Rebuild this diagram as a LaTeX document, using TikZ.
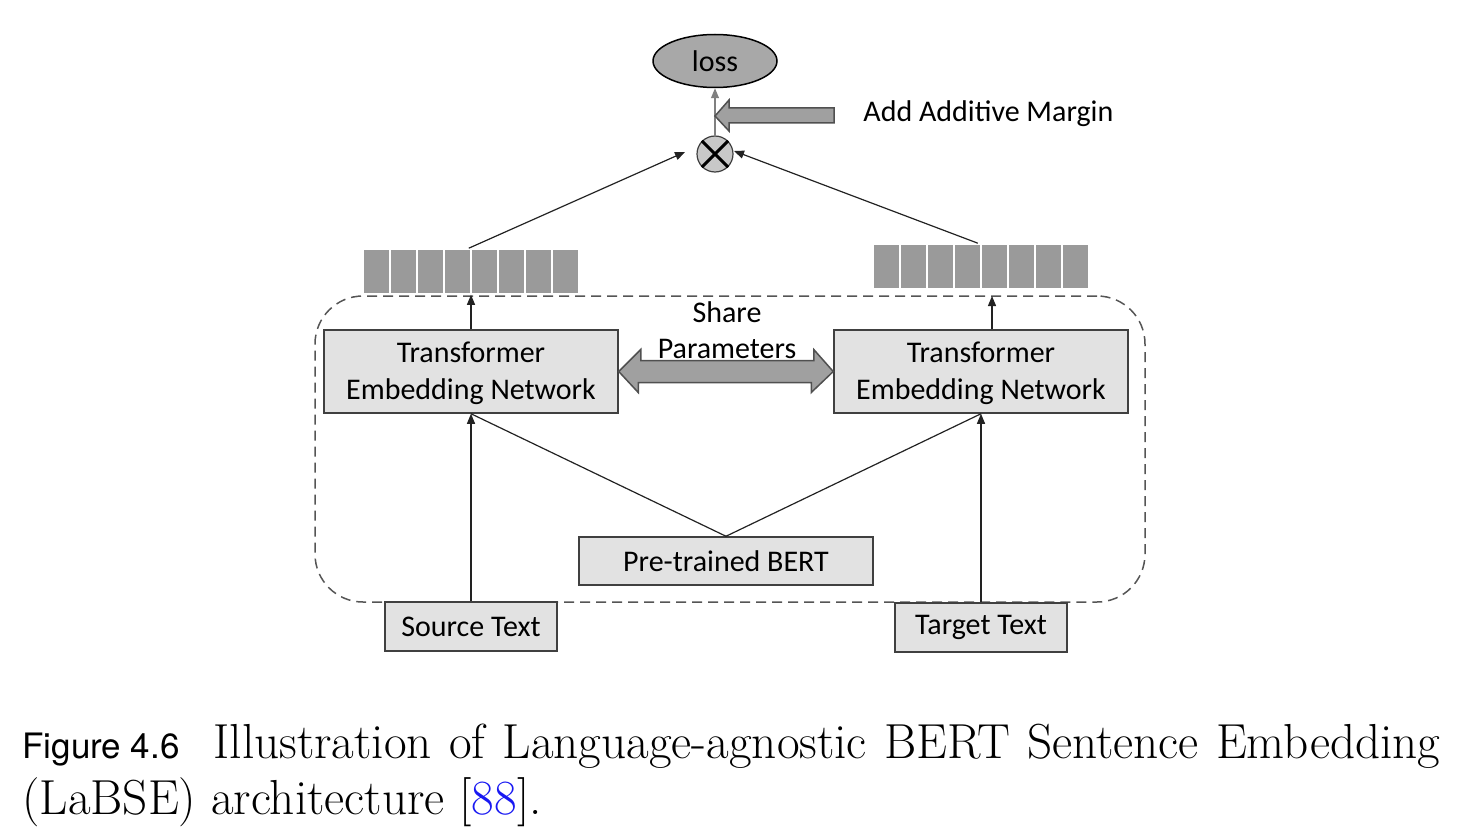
\documentclass[tikz,border=0pt]{standalone}
\usepackage{fontspec}
\usetikzlibrary{arrows.meta,calc,shapes.geometric}
\newfontfamily\calfont{Carlito}
\newfontfamily\helvfont{TeX Gyre Heros}
\definecolor{boxfill}{HTML}{E2E2E2}
\definecolor{boxdraw}{HTML}{404040}
\definecolor{cellgray}{HTML}{9A9A9A}
\definecolor{lossfill}{HTML}{A8A8A8}
\definecolor{circfill}{HTML}{C8C8C8}
\definecolor{blockfill}{HTML}{A0A0A0}
\definecolor{blockdraw}{HTML}{505050}
\definecolor{linecol}{HTML}{222222}
\definecolor{dashcol}{HTML}{555555}
\definecolor{refblue}{rgb}{0.1,0.1,0.95}
\tikzset{
  lbl/.style={font=\calfont\fontsize{15}{18.5}\selectfont, align=center, inner sep=0pt},
  box/.style={lbl, draw=boxdraw, fill=boxfill, line width=0.75pt},
  cell/.style={draw=white, fill=cellgray, line width=0.8pt, minimum width=13.5pt, minimum height=22.5pt, inner sep=0pt},
  conn/.style={draw=linecol, line width=0.6pt, -{Triangle[length=5pt,width=4pt]}},
  plainline/.style={draw=linecol, line width=0.6pt},
  blockarrow/.style={draw=blockdraw, fill=blockfill, line width=0.75pt, line join=miter},
  dashbox/.style={draw=dashcol, line width=0.75pt, dash pattern=on 5pt off 3pt, rounded corners=24pt},
}
\newcommand{\tenlabel}{\raisebox{-4.8pt}[0pt][0pt]{\begin{tabular}{@{}c@{}}Transformer\\Embedding Network\end{tabular}}}
\begin{document}
\begin{tikzpicture}[x=0.5pt, y=-0.5pt]
\path[use as bounding box] (0,0) rectangle (1474,840);

% shared-parameter dashed region
\node[dashbox, minimum width=415pt, minimum height=153pt, inner sep=0pt] (shared) at (730,449) {};

% top: loss and combination
\node[lbl, ellipse, draw=black, fill=lossfill, line width=0.75pt, minimum width=62pt, minimum height=26.5pt] (loss) at (715,61) {loss};
\node[circle, draw=boxdraw, fill=circfill, line width=0.6pt, minimum size=18pt, inner sep=0pt] (otimes) at (715,154) {};
\draw[black, line width=1.5pt] (otimes.north west) -- (otimes.south east) (otimes.north east) -- (otimes.south west);
\draw[draw=gray, line width=0.6pt, -{Triangle[length=5pt,width=4pt]}] (otimes.north) -- (loss.south);

% add additive margin block arrow
\coordinate (mtip) at (715,116);
\draw[blockarrow] (mtip) -- ++(14,-16) -- ++(0,8) -- ++(105,0) -- ++(0,15) -- ++(-105,0) -- ++(0,8) -- cycle;
\node[lbl, anchor=west] (margin) at (863,114) {Add Additive Margin};

% embedding vectors
\foreach \i in {0,...,7} {
  \node[cell] (lv\i) at ({376.5+27*\i},271.5) {};
  \node[cell] (rv\i) at ({886.5+27*\i},266.5) {};
}

% transformer boxes
\node[box, minimum width=147pt, minimum height=41.5pt] (lbox) at (471,371.5) {\tenlabel};
\node[box, minimum width=147pt, minimum height=41.5pt] (rbox) at (981,371.5) {\tenlabel};

% share parameters double arrow
\draw[blockarrow] (lbox.east) -- ++(22,-22) -- ++(0,11) -- ++(173,0) -- ++(0,-11) -- (rbox.west) -- ++(-22,21) -- ++(0,-10) -- ++(-173,0) -- ++(0,10) -- cycle;
\node[lbl] (share) at (727,330) {Share\\[-0.3pt]Parameters};

% pre-trained BERT and inputs
\node[box, minimum width=147pt, minimum height=24pt] (bert) at (726,561) {Pre-trained BERT};
\node[box, minimum width=86pt, minimum height=24.5pt] (src) at (471,626.5) {Source Text};
\node[box, minimum width=86pt, minimum height=24.5pt] (tgt) at (981,627.5) {\raisebox{-1pt}{Target Text}};

% connectors
\draw[conn] (src.north) -- (lbox.south);
\draw[conn] (tgt.north) -- (rbox.south);
\draw[plainline] (bert.north) -- (lbox.south);
\draw[plainline] (bert.north) -- (rbox.south);
\draw[conn] (lbox.north) -- (lbox.north |- lv3.south);
\coordinate (rarr) at (992,296);
\draw[conn] (rbox.north -| rarr) -- (rarr);
\coordinate (lin) at (685,152);
\coordinate (rin) at (734,151);
\draw[conn] ([xshift=-1.5pt]lv3.north east) -- (lin);
\draw[conn] ([xshift=-2pt]rv3.north east) -- (rin);

% caption
\node[anchor=base west, inner sep=0pt] (cap1) at (22,758) {\fontsize{24.6}{29.5}\selectfont\makebox[709pt][s]{\mbox{\helvfont\fontsize{17.5}{21}\selectfont Figure 4.6}\hspace{17pt}Illustration of Language-agnostic BERT Sentence Embedding}};
\node[anchor=base west, inner sep=0pt] (cap2) at (22,814) {\fontsize{24.6}{29.5}\selectfont (LaBSE) architecture [\textcolor{refblue}{88}].};
\end{tikzpicture}
\end{document}
